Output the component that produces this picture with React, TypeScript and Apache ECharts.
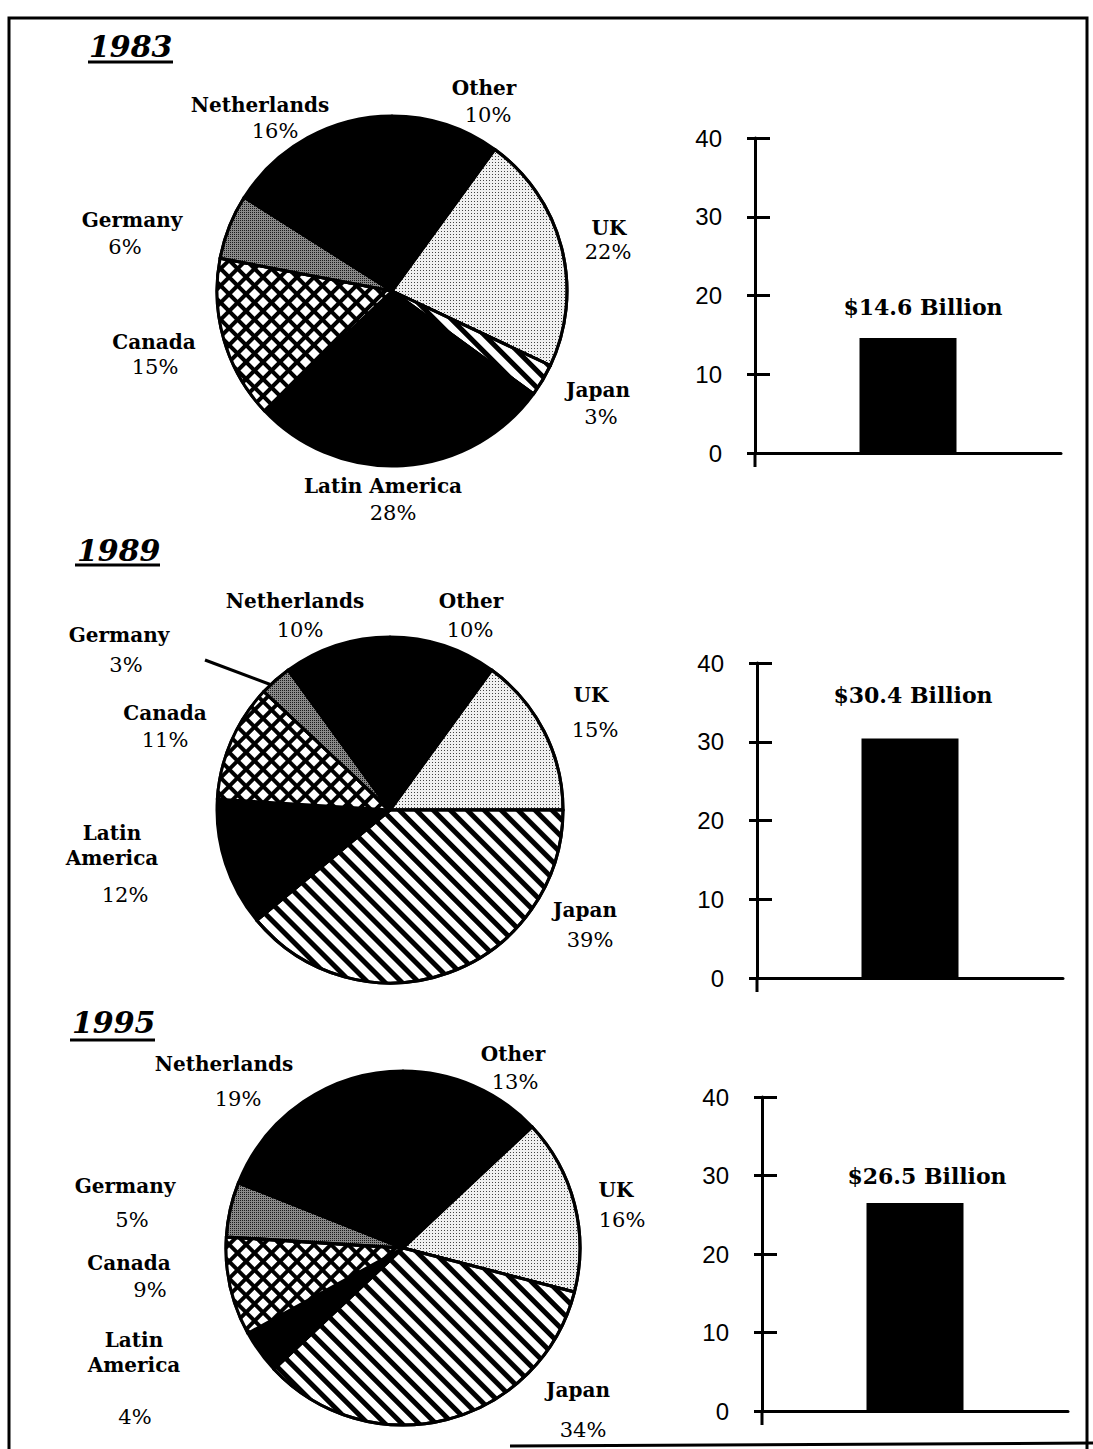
import { useEffect, useRef } from 'react';
import * as echarts from 'echarts';

// ---------------- data ----------------
const regions = ['Other', 'UK', 'Japan', 'Latin America', 'Canada', 'Germany', 'Netherlands'];
const years = ['1983', '1989', '1995'];
const share1983 = [10, 22, 3, 28, 15, 6, 16];
const share1989 = [10, 15, 39, 12, 11, 3, 10];
const share1995 = [13, 16, 34, 4, 9, 5, 19];
const totalsBillion = [14.6, 30.4, 26.5];
const axisMax = 40;
const axisStep = 10;

// ---------------- layout / style ----------------
const SERIF = '"DejaVu Serif", "Liberation Serif", serif';
const SANS = '"Liberation Sans", Arial, sans-serif';

const pieLayout = [
  { center: [392, 291], radius: 175 },
  { center: [390, 810], radius: 173 },
  { center: [403, 1248], radius: 177 },
];

// per year, per region (same order as regions): x, y = centre of first name line,
// py = centre of percentage line, dx = horizontal shift of percentage, wrap = split name
type Place = { x: number; y: number; py: number; dx: number; wrap?: boolean };
const labelPlace: Place[][] = [
  [
    { x: 484, y: 88, py: 115, dx: 4 },
    { x: 609, y: 228, py: 252, dx: -1 },
    { x: 598, y: 390, py: 417, dx: 3 },
    { x: 383, y: 486, py: 513, dx: 10 },
    { x: 154, y: 342, py: 367, dx: 1 },
    { x: 132, y: 220, py: 247, dx: -7 },
    { x: 260, y: 105, py: 131, dx: 15 },
  ],
  [
    { x: 471, y: 601, py: 630, dx: -1 },
    { x: 591, y: 695, py: 730, dx: 4 },
    { x: 585, y: 910, py: 940, dx: 5 },
    { x: 112, y: 833, py: 895, dx: 13, wrap: true },
    { x: 165, y: 713, py: 740, dx: 0 },
    { x: 119, y: 635, py: 665, dx: 7 },
    { x: 295, y: 601, py: 630, dx: 5 },
  ],
  [
    { x: 513, y: 1054, py: 1082, dx: 2 },
    { x: 616, y: 1190, py: 1220, dx: 6 },
    { x: 578, y: 1390, py: 1430, dx: 5 },
    { x: 134, y: 1340, py: 1417, dx: 1, wrap: true },
    { x: 129, y: 1263, py: 1290, dx: 21 },
    { x: 125, y: 1186, py: 1220, dx: 7 },
    { x: 224, y: 1064, py: 1099, dx: 14 },
  ],
];

const NAME_LH = 25;

const sliceFill: Record<string, any> = {
  Other: { color: '#000' },
  Netherlands: { color: '#000' },
  'Latin America': { color: '#000' },
  UK: {
    color: '#f0f0f0',
    decal: { symbol: 'rect', symbolSize: 1, dashArrayX: [1, 2], dashArrayY: [1, 2], color: '#444' },
  },
  Germany: {
    color: '#8a8a8a',
    decal: { symbol: 'rect', symbolSize: 1, dashArrayX: [1, 1], dashArrayY: [1, 1], color: '#1a1a1a' },
  },
  Japan: {
    color: '#fff',
    decal: { symbol: 'rect', symbolSize: 1, dashArrayX: [1, 0], dashArrayY: [5, 7], rotation: Math.PI / 4, color: '#000' },
  },
  Canada: {
    color: '#000',
    decal: { symbol: 'rect', symbolSize: 1, dashArrayX: [7.5, 3.5], dashArrayY: [7.5, 3.5], rotation: Math.PI / 4, color: '#fff' },
  },
};

const barGrids = [
  { left: 755, top: 138, height: 315, labelDist: 20, labelDx: 15 },
  { left: 757, top: 663, height: 315, labelDist: 33, labelDx: 3 },
  { left: 762, top: 1097, height: 314, labelDist: 16, labelDx: 12 },
];
const BAR_GRID_W = 306;
const AXIS_OVERHANG = 14;

const titles = [
  { x: 89, y: 46, ux1: 88, ux2: 173, uy: 62 },
  { x: 77, y: 550, ux1: 75, ux2: 160, uy: 565 },
  { x: 72, y: 1022, ux1: 70, ux2: 155, uy: 1040 },
];

function buildPie(yi: number, shares: number[]) {
  const places = labelPlace[yi];
  return {
    type: 'pie',
    center: pieLayout[yi].center,
    radius: pieLayout[yi].radius,
    startAngle: 90,
    clockwise: true,
    avoidLabelOverlap: false,
    silent: true,
    itemStyle: { borderColor: '#000', borderWidth: 3 },
    labelLine: { show: false },
    label: {
      show: true,
      position: 'outside',
      color: '#000',
      formatter: (p: any) => {
        const pl = places[p.dataIndex];
        const nm = pl.wrap ? p.name.split(' ').map((s: string) => `{n|${s}}`).join('\n') : `{n|${p.name}}`;
        return `${nm}\n{p|${p.value}%}`;
      },
    },
    labelLayout: (params: any) => {
      const pl = places[params.dataIndex];
      return { x: pl.x, y: pl.y - NAME_LH / 2, align: 'center', verticalAlign: 'top' };
    },
    data: regions.map((name, i) => {
      const pl = places[i];
      const k = pl.wrap ? 2 : 1;
      const gap = pl.py - (pl.y + NAME_LH * (k - 1));
      const lh = Math.max(2 * (gap - NAME_LH / 2), 20);
      const pad = pl.dx > 0 ? [0, 0, 0, 2 * pl.dx] : [0, -2 * pl.dx, 0, 0];
      return {
        name,
        value: shares[i],
        itemStyle: sliceFill[name],
        label: {
          rich: {
            n: { fontFamily: SERIF, fontWeight: 'bold', fontSize: 20, lineHeight: NAME_LH, color: '#000' },
            p: { fontFamily: SERIF, fontSize: 21, lineHeight: lh, padding: pad, color: '#000' },
          },
        },
      };
    }),
  };
}

export default function App() {
  const ref = useRef<HTMLDivElement>(null);
  useEffect(() => {
    if (!ref.current) return;
    const chart = echarts.init(ref.current, undefined, { renderer: 'svg' });
    const allShares = [share1983, share1989, share1995];

    const grid = barGrids.map((g) => ({ left: g.left, top: g.top, width: BAR_GRID_W, height: g.height }));
    const xAxis = barGrids.map((_, i) => ({
      type: 'category',
      gridIndex: i,
      position: 'bottom',
      data: [years[i]],
      axisLine: { show: true, lineStyle: { color: '#000', width: 3 } },
      axisTick: { show: false },
      axisLabel: { show: false },
      splitLine: { show: false },
    }));
    const yAxis: any[] = [];
    barGrids.forEach((_, i) => {
      yAxis.push({
        type: 'value',
        gridIndex: i,
        position: 'left',
        offset: 0,
        min: 0,
        max: axisMax,
        interval: axisStep,
        axisLine: { show: true, lineStyle: { color: '#000', width: 3 } },
        axisTick: { show: true, inside: true, length: 15, lineStyle: { color: '#000', width: 3 } },
        axisLabel: { color: '#000', fontFamily: SANS, fontSize: 24, margin: 33 },
        splitLine: { show: false },
      });
      yAxis.push({
        type: 'value',
        gridIndex: i,
        position: 'left',
        offset: 0,
        min: 0,
        max: axisMax,
        interval: axisStep,
        axisLine: { show: false },
        axisTick: { show: true, inside: false, length: 8, lineStyle: { color: '#000', width: 3 } },
        axisLabel: { show: false },
        splitLine: { show: false },
      });
    });

    const bars = barGrids.map((g, i) => ({
      type: 'bar',
      xAxisIndex: i,
      yAxisIndex: 2 * i,
      data: [totalsBillion[i]],
      barWidth: 97,
      silent: true,
      itemStyle: { color: '#000' },
      label: {
        show: true,
        position: 'top',
        distance: g.labelDist,
        offset: [g.labelDx, 0],
        formatter: (p: any) => `$${p.value} Billion`,
        fontFamily: SERIF,
        fontWeight: 'bold',
        fontSize: 22,
        color: '#000',
      },
    }));

    const graphic: any[] = [
      {
        type: 'polyline',
        shape: { points: [[9, 1449], [9, 18], [1087, 18], [1087, 1449]] },
        style: { stroke: '#000', lineWidth: 3, fill: null },
        silent: true,
      },
      {
        type: 'line',
        shape: { x1: 510, y1: 1446, x2: 1093, y2: 1443 },
        style: { stroke: '#000', lineWidth: 3 },
        silent: true,
      },
      {
        type: 'line',
        shape: { x1: 205, y1: 660, x2: 277, y2: 687 },
        style: { stroke: '#000', lineWidth: 3 },
        silent: true,
      },
    ];
    // short continuation of each y axis below its zero line
    barGrids.forEach((g) => {
      const base = g.top + g.height;
      graphic.push({
        type: 'line',
        silent: true,
        shape: { x1: g.left, y1: base, x2: g.left, y2: base + AXIS_OVERHANG },
        style: { stroke: '#000', lineWidth: 3 },
      });
    });
    titles.forEach((t, i) => {
      graphic.push({
        type: 'text',
        x: t.x,
        y: t.y,
        silent: true,
        style: {
          text: years[i],
          fontFamily: SERIF,
          fontWeight: 'bold',
          fontStyle: 'italic',
          fontSize: 30,
          fill: '#000',
          textAlign: 'left',
          textVerticalAlign: 'middle',
        },
      });
      graphic.push({
        type: 'line',
        silent: true,
        shape: { x1: t.ux1, y1: t.uy, x2: t.ux2, y2: t.uy },
        style: { stroke: '#000', lineWidth: 3 },
      });
    });

    chart.setOption({
      animation: false,
      backgroundColor: '#fff',
      grid,
      xAxis,
      yAxis,
      series: [
        ...allShares.map((s, i) => buildPie(i, s)),
        ...bars,
      ],
      graphic,
    } as any);

    return () => chart.dispose();
  }, []);

  return (
    <div
      ref={ref}
      style={{ position: 'absolute', left: 0, top: 0, width: 1093, height: 1449 }}
    />
  );
}
